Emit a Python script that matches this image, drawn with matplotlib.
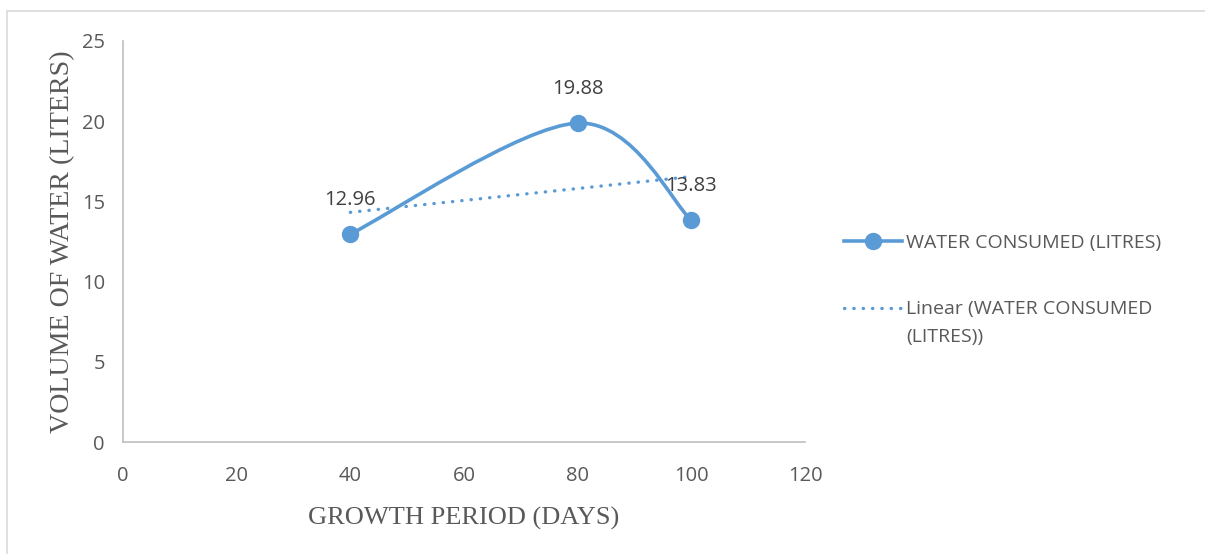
import numpy as np
import matplotlib
matplotlib.use("Agg")
import matplotlib.pyplot as plt
from matplotlib.path import Path
from matplotlib.patches import PathPatch, Rectangle
from matplotlib.lines import Line2D

# Growth period (days) and water consumed (litres)
days = [40, 80, 100]
water = [12.96, 19.88, 13.83]
value_labels = ["12.96", "19.88", "13.83"]

x_ticks = [0, 20, 40, 60, 80, 100, 120]
y_ticks = [0, 5, 10, 15, 20, 25]

series_name = "WATER CONSUMED (LITRES)"
trend_name = "Linear (WATER CONSUMED"
trend_name_cont = "(LITRES))"
x_title = "GROWTH PERIOD (DAYS)"
y_title = "VOLUME OF WATER (LITERS)"

blue = "#5B9BD5"
text_grey = "#595959"
label_grey = "#404040"
axis_grey = "#BFBFBF"
sans = "Open Sans"
dots = (0, (0.1, 2.7))

fig = plt.figure(figsize=(12.05, 5.54), dpi=100)
fig.patches.append(Rectangle((7 / 1205, -0.05), 1.2, 1 - 11 / 554 + 0.05,
                             transform=fig.transFigure, fill=False,
                             edgecolor="#D9D9D9", linewidth=1.2))

ax = fig.add_axes([123 / 1205, 1 - 442 / 554, (805 - 123) / 1205, (442 - 41) / 554])
ax.set_xlim(0, 120)
ax.set_ylim(0, 25)
ax.set_xticks(x_ticks)
ax.set_yticks(y_ticks)
for side in ("top", "right"):
    ax.spines[side].set_visible(False)
for side in ("left", "bottom"):
    ax.spines[side].set_color(axis_grey)
    ax.spines[side].set_linewidth(1.2)
ax.tick_params(length=0, labelsize=14.5, labelcolor=text_grey)
ax.tick_params(axis="x", pad=17)
ax.tick_params(axis="y", pad=13)
for lab in ax.get_xticklabels() + ax.get_yticklabels():
    lab.set_family(sans)

# Smoothed line through the points (Catmull-Rom style cubic Bezier)
pts = np.column_stack([days, water]).astype(float)
ext = np.vstack([pts[0], pts, pts[-1]])
verts = [tuple(pts[0])]
codes = [Path.MOVETO]
for i in range(len(pts) - 1):
    p_prev, p0, p1, p_next = ext[i], ext[i + 1], ext[i + 2], ext[i + 3]
    c1 = p0 + (p1 - p_prev) / 6.0
    c2 = p1 - (p_next - p0) / 6.0
    verts += [tuple(c1), tuple(c2), tuple(p1)]
    codes += [Path.CURVE4] * 3
ax.add_patch(PathPatch(Path(verts, codes), facecolor="none", edgecolor=blue,
                       linewidth=2.6, capstyle="round", zorder=3))
ax.plot(days, water, linestyle="none", marker="o", markersize=11.5,
        color=blue, zorder=4)

# Linear trend line
slope, intercept = np.polyfit(days, water, 1)
tx = np.array([days[0], days[-1]])
ax.plot(tx, slope * tx + intercept, color=blue, linewidth=2.4,
        linestyle=dots, dash_capstyle="round", zorder=2)

# Value labels
for x, y, s in zip(days, water, value_labels):
    ax.annotate(s, (x, y), xytext=(0, 34), textcoords="offset pixels",
                ha="center", va="center", fontsize=14.5, color=label_grey,
                family=sans, zorder=5)

ax.set_xlabel(x_title, family="Liberation Serif", fontsize=19,
              color=text_grey, labelpad=15)
ax.set_ylabel(y_title, family="Liberation Serif", fontsize=20.2,
              color=text_grey, labelpad=5)

handles = [
    Line2D([], [], color=blue, linewidth=2.6, marker="o", markersize=11.5),
    Line2D([], [], color=blue, linewidth=2.4, linestyle=dots,
           dash_capstyle="round"),
]
leg = fig.legend(handles, [series_name, trend_name], loc="upper left",
                 bbox_to_anchor=(838 / 1205, 1 - 228 / 554), frameon=False,
                 prop={"family": sans, "size": 14}, labelcolor=text_grey,
                 handlelength=3.0, handletextpad=0.22, labelspacing=2.5,
                 borderaxespad=0, borderpad=0.3)

# Continuation line of the trend label, aligned under the legend text
fig.canvas.draw()
renderer = fig.canvas.get_renderer()
bb = leg.get_texts()[1].get_window_extent(renderer)
x0, y0 = fig.transFigure.inverted().transform((bb.x0, bb.y0))
fig.text(x0, y0 - 28 / 554, trend_name_cont, family=sans, fontsize=14,
         color=text_grey, ha="left", va="bottom")

fig.savefig("out.png", dpi=100)
